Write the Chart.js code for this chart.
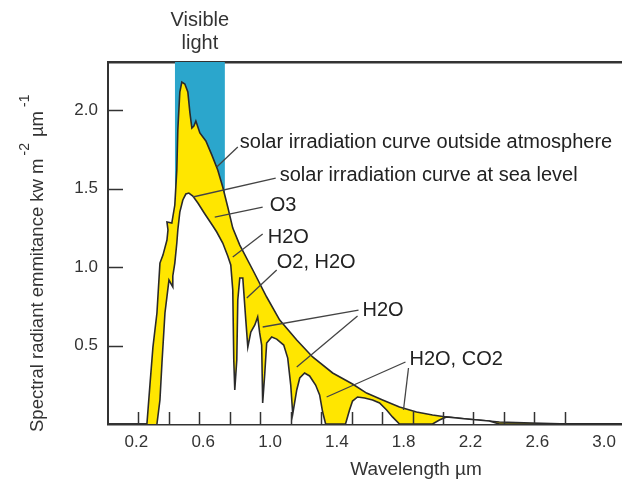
<!DOCTYPE html>
<html><head><meta charset="utf-8">
<script src="https://cdn.jsdelivr.net/npm/chart.js@4.4.1/dist/chart.umd.min.js"></script>
<style>html,body{margin:0;padding:0;background:#fff;}canvas{display:block;}</style>
</head><body>
<canvas id="c" width="624" height="486" style="width:624px;height:486px"></canvas>
<script>
// ---- data (wavelength in µm, emittance in kW m-2 µm-1) ----
const wavelengthLabels = [0.2, 0.6, 1.0, 1.4, 1.8, 2.2, 2.6, 3.0];
const emittanceLabels = [0.5, 1.0, 1.5, 2.0];
const visibleLight = [0.43, 0.73];

const outsideWavelength = [0.263,0.281,0.299,0.323,0.341,0.359,0.383,0.389,0.383,0.412,0.430,0.442,0.448,0.460,0.472,0.490,0.508,0.520,0.532,0.544,0.556,0.568,0.580,0.616,0.652,0.687,0.717,0.747,0.777,0.819,0.897,0.980,1.058,1.160,1.255,1.375,1.494,1.578,1.674,1.775,1.877,1.973,2.056,2.176,2.373,2.570,2.791,3.102];
const outsideEmittance = [0,0.248,0.490,0.707,1.025,1.076,1.172,1.236,1.287,1.280,1.395,1.618,1.873,2.115,2.178,2.166,2.115,1.987,1.885,1.898,1.930,1.892,1.854,1.803,1.713,1.618,1.510,1.382,1.248,1.140,0.981,0.809,0.662,0.535,0.427,0.325,0.255,0.197,0.153,0.108,0.076,0.057,0.045,0.032,0.013,0.006,0,0];

const seaLevelWavelength = [0.323,0.341,0.353,0.371,0.395,0.418,0.418,0.430,0.442,0.448,0.460,0.478,0.496,0.514,0.538,0.568,0.610,0.658,0.681,0.717,0.747,0.765,0.777,0.783,0.789,0.801,0.807,0.819,0.837,0.855,0.867,0.885,0.909,0.926,0.938,0.950,0.956,0.968,0.980,1.010,1.040,1.082,1.106,1.124,1.136,1.160,1.178,1.207,1.237,1.273,1.297,1.315,1.333,1.452,1.476,1.494,1.524,1.566,1.614,1.656,1.698,1.733,1.775,1.973,2.014,2.056,2.176,2.313,2.373,3.102];
const seaLevelEmittance = [0,0.153,0.389,0.707,0.917,0.873,0.943,1.025,1.153,1.236,1.350,1.427,1.465,1.471,1.452,1.408,1.338,1.261,1.223,1.153,1.070,1.013,0.854,0.408,0.217,0.408,0.790,0.930,0.930,0.662,0.490,0.586,0.631,0.682,0.580,0.503,0.134,0.312,0.516,0.554,0.541,0.503,0.420,0.248,0.064,0.217,0.293,0.325,0.306,0.248,0.185,0.076,0,0,0.089,0.146,0.172,0.166,0.153,0.134,0.089,0.045,0,0,0.025,0.045,0.032,0.019,0,0];

// annotation labels (text anchor and leader lines in data units)
const annotations = [
  {text:'solar irradiation curve outside atmosphere', at:[0.819,1.796], lines:[[[0.807,1.764],[0.681,1.637]]]},
  {text:'solar irradiation curve at sea level', at:[1.058,1.586], lines:[[[1.034,1.567],[0.538,1.446]]]},
  {text:'O3', at:[0.998,1.389], lines:[[[0.956,1.382],[0.669,1.318]]]},
  {text:'H2O', at:[0.986,1.191], lines:[[[0.956,1.210],[0.777,1.064]]]},
  {text:'O2, H2O', at:[1.040,1.032], lines:[[[1.040,0.981],[0.861,0.803]]]},
  {text:'H2O', at:[1.554,0.720], lines:[[[1.530,0.726],[0.956,0.618]],[[1.524,0.688],[1.160,0.363]]]},
  {text:'H2O, CO2', at:[1.835,0.408], lines:[[[1.811,0.395],[1.339,0.172]],[[1.829,0.357],[1.799,0.089]]]}
];
const yTitleParts = [
  {text:'Spectral radiant emmitance kw m', sup:false, gap:0},
  {text:'-2', sup:true, gap:3},
  {text:'\u00b5m', sup:false, gap:6},
  {text:'-1', sup:true, gap:4}
];

const Y_MAX = 2.306;
const FONT = '"Liberation Sans", Arial, Helvetica, sans-serif';
const pts = (xs, ys) => xs.map((v, i) => ({x: v, y: ys[i]}));

const decor = {
  id: 'decor',
  afterDraw(chart) {
    const {ctx, chartArea: a, scales} = chart;
    const x = scales.x, y = scales.y, xt = scales.xt;
    ctx.save();
    // inner tick marks
    ctx.strokeStyle = '#333'; ctx.lineWidth = 1.5;
    xt.ticks.forEach(t => {
      const k = t.value / 0.2;
      if (t.value <= 0 || Math.abs(k - Math.round(k)) > 1e-6) return;
      const px = Math.round(xt.getPixelForValue(t.value)) + 0.5;
      ctx.beginPath(); ctx.moveTo(px, a.bottom); ctx.lineTo(px, a.bottom - 12); ctx.stroke();
    });
    y.ticks.forEach(t => {
      const py = Math.round(y.getPixelForValue(t.value)) + 0.5;
      ctx.beginPath(); ctx.moveTo(a.left, py); ctx.lineTo(a.left + 15, py); ctx.stroke();
    });
    // annotations
    ctx.strokeStyle = '#444'; ctx.lineWidth = 1.3;
    ctx.fillStyle = '#222'; ctx.font = '20px ' + FONT;
    ctx.textAlign = 'left'; ctx.textBaseline = 'middle';
    annotations.forEach(an => {
      an.lines.forEach(l => {
        ctx.beginPath();
        ctx.moveTo(x.getPixelForValue(l[0][0]), y.getPixelForValue(l[0][1]));
        ctx.lineTo(x.getPixelForValue(l[1][0]), y.getPixelForValue(l[1][1]));
        ctx.stroke();
      });
      ctx.fillText(an.text, x.getPixelForValue(an.at[0]), y.getPixelForValue(an.at[1]));
    });
    // Visible light label
    const cx = x.getPixelForValue((visibleLight[0] + visibleLight[1]) / 2);
    ctx.textAlign = 'center';
    ctx.fillStyle = '#333';
    ctx.fillText('Visible', cx, 20);
    ctx.fillText('light', cx, 43);
    // x axis title
    ctx.font = '19px ' + FONT;
    ctx.fillText('Wavelength \u00b5m', a.left + 308, 470);
    // y axis title with superscripts (reads bottom to top)
    ctx.textAlign = 'left'; ctx.textBaseline = 'alphabetic';
    ctx.translate(43, a.bottom + 8);
    ctx.rotate(-Math.PI / 2);
    let pos = 0;
    yTitleParts.forEach(p => {
      ctx.font = (p.sup ? '14px ' : '18.5px ') + FONT;
      pos += p.gap;
      ctx.fillText(p.text, pos, p.sup ? -14 : 0);
      pos += ctx.measureText(p.text).width;
    });
    ctx.restore();
  }
};

new Chart(document.getElementById('c').getContext('2d'), {
  type: 'line',
  data: {
    datasets: [
      {label: 'solar irradiation curve at sea level', data: pts(seaLevelWavelength, seaLevelEmittance),
       borderColor: '#2a2a2a', borderWidth: 1.6, backgroundColor: '#ffffff', fill: 'origin',
       pointRadius: 0, tension: 0, order: 1},
      {label: 'solar irradiation curve outside atmosphere', data: pts(outsideWavelength, outsideEmittance),
       borderColor: '#2a2a2a', borderWidth: 1.6, backgroundColor: '#ffe600', fill: 'origin',
       pointRadius: 0, tension: 0, order: 2},
      {label: 'Visible light', data: [{x: visibleLight[0], y: Y_MAX}, {x: visibleLight[1], y: Y_MAX}],
       borderWidth: 0, borderColor: 'rgba(0,0,0,0)', backgroundColor: '#2ba6cc', fill: 'origin',
       pointRadius: 0, order: 3}
    ]
  },
  options: {
    responsive: false, animation: false,
    layout: {padding: {top: 62, right: 2, left: 0, bottom: 0}},
    plugins: {legend: {display: false}, tooltip: {enabled: false}},
    scales: {
      x: {type: 'linear', position: 'bottom', min: 0.03, max: 3.102, z: 1,
        afterBuildTicks: s => { s.ticks = wavelengthLabels.map(v => ({value: v})); },
        afterFit: s => { s.height = 62; },
        grid: {display: false, drawTicks: false},
        border: {display: true, color: '#333', width: 2.5},
        ticks: {padding: 8, color: '#333', font: {family: FONT, size: 17}, maxRotation: 0, autoSkip: false,
          callback: v => Number(v).toFixed(1)}},
      xt: {type: 'linear', position: 'top', min: 0, max: 3.37, z: 1,
        afterFit: s => { s.height = 0; },
        ticks: {display: false, stepSize: 0.2},
        grid: {display: false, drawTicks: false},
        border: {display: true, color: '#333', width: 2.5}},
      y: {type: 'linear', position: 'left', min: 0, max: Y_MAX, z: 1,
        afterBuildTicks: s => { s.ticks = emittanceLabels.map(v => ({value: v})); },
        afterFit: s => { s.width = 108; },
        grid: {display: false, drawTicks: false},
        border: {display: true, color: '#333', width: 2},
        ticks: {padding: 10, color: '#333', font: {family: FONT, size: 17},
          callback: v => Number(v).toFixed(1)}}
    }
  },
  plugins: [decor]
});
</script>
</body></html>
